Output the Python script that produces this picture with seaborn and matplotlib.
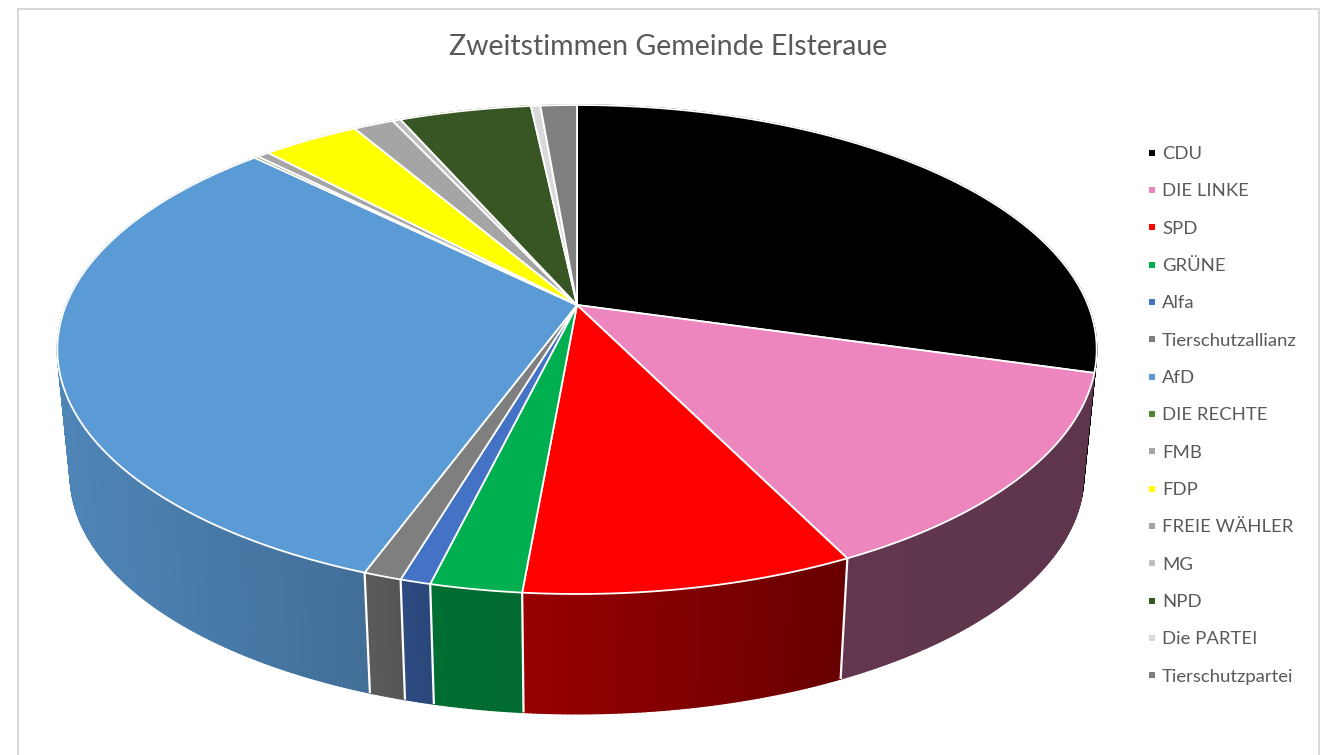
import numpy as np
import matplotlib
matplotlib.use('Agg')
import matplotlib.pyplot as plt
from matplotlib.collections import PolyCollection
from matplotlib.colors import to_rgb
from matplotlib.lines import Line2D
from matplotlib.patches import Polygon
import seaborn as sns

title = 'Zweitstimmen Gemeinde Elsteraue'
parties = ['CDU', 'DIE LINKE', 'SPD', 'GRÜNE', 'Alfa', 'Tierschutzallianz', 'AfD', 'DIE RECHTE',
           'FMB', 'FDP', 'FREIE WÄHLER', 'MG', 'NPD', 'Die PARTEI', 'Tierschutzpartei']
shares = [29.4, 13.3, 8.7, 2.4, 0.8, 1.0, 31.8, 0.15, 0.45, 3.6, 1.5, 0.3, 4.9, 0.35, 1.35]
party_colors = ['#000000', '#ed85bf', '#ff0000', '#00b050', '#4472c4', '#7f7f7f', '#5b9bd5', '#548235',
                '#a5a5a5', '#ffff00', '#a5a5a5', '#bfbfbf', '#375623', '#d9d9d9', '#7f7f7f']

sns.set_theme(style='white')
plt.rcParams['font.family'] = ['Lato', 'DejaVu Sans']
palette = sns.color_palette(party_colors)

fig = plt.figure(figsize=(13.2, 7.55), dpi=100, facecolor='white')
ax = fig.add_axes([0, 0, 1, 1])
ax.set_xlim(0, 1320)
ax.set_ylim(755, 0)
ax.axis('off')

# chart frame, open at the bottom of the picture
ax.plot([18, 18, 1319, 1319], [760, 8.5, 8.5, 760], color='#d9d9d9', lw=1.5, solid_joinstyle='miter')

# perspective view of the pie disc, apex in pixels
APEX_X, APEX_Y = 577, 305
K = 0.182
A = 236.4
B = 511
DROP = 127
SHRINK = 0.975


def top_rim(theta):
    u, v = np.sin(theta), np.cos(theta)
    return APEX_X + B * u / (1 + K * v), APEX_Y - A * v / (1 + K * v)


def bottom_rim(theta):
    x, y = top_rim(theta)
    return APEX_X + SHRINK * (x - APEX_X), APEX_Y + DROP + SHRINK * (y - APEX_Y)


# darkening of the side wall from left to right
def shade(x):
    return np.interp(x, [60, 370, 430, 523, 840, 1090], [0.86, 0.71, 0.62, 0.60, 0.41, 0.40])


edges = np.concatenate([[0], np.cumsum(shares)]) / np.sum(shares) * 2 * np.pi

# side wall as thin strips, painted back to front
strips = []
for i, color in enumerate(palette):
    n = max(2, int((edges[i + 1] - edges[i]) / 0.008))
    t = np.linspace(edges[i], edges[i + 1], n + 1)
    x0, y0 = top_rim(t)
    x1, y1 = bottom_rim(t)
    for j in range(n):
        mid = (t[j] + t[j + 1]) / 2
        f = shade((x0[j] + x0[j + 1]) / 2)
        strips.append((-np.cos(mid), [(x0[j], y0[j]), (x0[j + 1], y0[j + 1]),
                                      (x1[j + 1], y1[j + 1]), (x1[j], y1[j])],
                       tuple(c * f for c in to_rgb(color))))
strips.sort(key=lambda s: s[0])
ax.add_collection(PolyCollection([s[1] for s in strips], facecolors=[s[2] for s in strips],
                                 edgecolors=[s[2] for s in strips], linewidths=1.0))

# white seams on the front of the wall
for e in edges:
    if np.cos(e) < -0.5:
        xa, ya = top_rim(e)
        xb, yb = bottom_rim(e)
        ax.plot([xa, xb], [ya, yb], color='white', lw=1.6, solid_capstyle='butt')

# top of the pie
for i, color in enumerate(palette):
    t = np.linspace(edges[i], edges[i + 1], max(3, int((edges[i + 1] - edges[i]) / 0.01)))
    x, y = top_rim(t)
    pts = np.column_stack([np.r_[APEX_X, x], np.r_[APEX_Y, y]])
    ax.add_patch(Polygon(pts, closed=True, facecolor=color, edgecolor='white', lw=1.3, joinstyle='round'))

ax.text(668, 47, title, fontsize=20.5, color='#595959', ha='center', va='center')

handles = [Line2D([], [], linestyle='none', marker='s', markersize=4.6, markeredgewidth=0, color=c) for c in palette]
ax.legend(handles, parties, loc='upper left', bbox_to_anchor=(1144.6 / 1320, 1 - 146 / 755), bbox_transform=fig.transFigure,
          frameon=False, fontsize=13.3, labelcolor='#595959', labelspacing=1.155, handlelength=0.8,
          handletextpad=0.15, borderpad=0, borderaxespad=0)

fig.savefig('out.png', dpi=100, facecolor='white')
